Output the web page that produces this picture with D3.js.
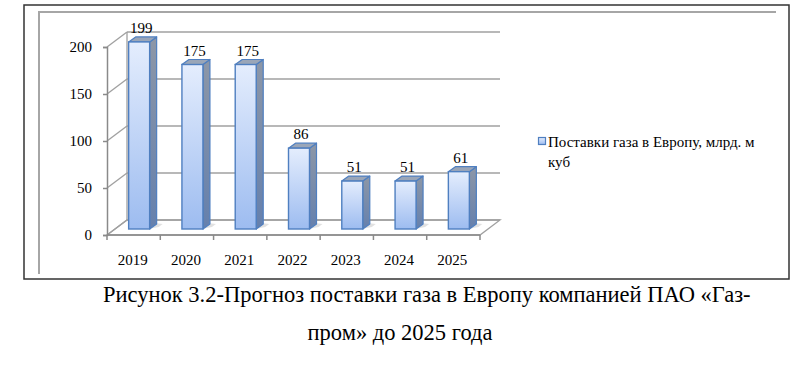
<!DOCTYPE html>
<html><head><meta charset="utf-8">
<script src="https://cdn.jsdelivr.net/npm/d3@7"></script>
<style>
body{margin:0;background:#fff;}
svg{display:block;}
</style></head>
<body>
<svg id="c" width="800" height="369" font-family="Liberation Serif"></svg>
<script>
const years = ["2019","2020","2021","2022","2023","2024","2025"];
const values = [199,175,175,86,51,51,61];
const yTicks = [0,50,100,150,200];
const seriesName = "Поставки газа в Европу, млрд. м";
const seriesName2 = "куб";
const caption1 = "Рисунок 3.2-Прогноз поставки газа в Европу компанией ПАО «Газ-";
const caption2 = "пром» до 2025 года";
const FONT = "Liberation Serif";

const svg = d3.select("#c");
const defs = svg.append("defs");
const gf = defs.append("linearGradient").attr("id","gFront").attr("x1",0).attr("y1",0).attr("x2",0).attr("y2",1);
gf.append("stop").attr("offset","0%").attr("stop-color","#e4edfd");
gf.append("stop").attr("offset","100%").attr("stop-color","#9dbcf0");
const gs = defs.append("linearGradient").attr("id","gSide").attr("x1",0).attr("y1",0).attr("x2",0).attr("y2",1);
gs.append("stop").attr("offset","0%").attr("stop-color","#8d97a7");
gs.append("stop").attr("offset","100%").attr("stop-color","#6580ad");

// frames
svg.append("rect").attr("x",24).attr("y",5).attr("width",765).attr("height",274)
  .attr("fill","none").attr("stroke","#333").attr("stroke-width",1.5);
svg.append("path").attr("d","M39,274 L39,12 L776,12").attr("fill","none").attr("stroke","#a6a6a6").attr("stroke-width",2);

const x0 = 107, x1 = 480, DX = 20, DY = -15;
const x = d3.scaleBand().domain(years).range([x0,x1]).padding(0);
const y = d3.scaleLinear().domain([0,200]).range([235,47]);
const grid = "#a0a0a0";

// floor
svg.append("path").attr("d",`M${x0},${y(0)} L${x1},${y(0)} L${x1+DX},${y(0)+DY} L${x0+DX},${y(0)+DY} Z`)
  .attr("fill","#fff").attr("stroke",grid).attr("stroke-width",1.3);
yTicks.forEach(t=>{
  svg.append("line").attr("x1",x0+DX).attr("x2",x1+DX).attr("y1",y(t)+DY).attr("y2",y(t)+DY)
    .attr("stroke",grid).attr("stroke-width",1.6);
  svg.append("line").attr("x1",x0).attr("x2",x0+DX).attr("y1",y(t)).attr("y2",y(t)+DY)
    .attr("stroke",grid).attr("stroke-width",1.3);
});
svg.append("line").attr("x1",x0+DX).attr("x2",x0+DX).attr("y1",y(0)+DY).attr("y2",y(200)+DY)
  .attr("stroke",grid).attr("stroke-width",1.3);

// y axis
const ya = svg.append("g").attr("transform",`translate(${x0},0)`)
  .call(d3.axisLeft(y).tickValues(yTicks).tickSize(4).tickPadding(11).tickFormat(d3.format("d")));
ya.attr("font-family",FONT).attr("font-size",15);
ya.select(".domain").attr("stroke","#8a8a8a").attr("stroke-width",1.5);
ya.selectAll(".tick line").attr("stroke","#8a8a8a").attr("stroke-width",1.5);
ya.selectAll(".tick text").attr("font-family",FONT).attr("font-size",15).attr("fill","#000");

// x axis
const xa = svg.append("g");
xa.append("line").attr("x1",x0).attr("x2",x1).attr("y1",y(0)).attr("y2",y(0)).attr("stroke","#8a8a8a").attr("stroke-width",1.5);
[...years.map(d=>x(d)), x1].forEach(px=>{
  xa.append("line").attr("x1",px).attr("x2",px).attr("y1",y(0)).attr("y2",y(0)+5).attr("stroke","#8a8a8a").attr("stroke-width",1.5);
});
xa.selectAll("text.cat").data(years).join("text").attr("class","cat")
  .attr("x",d=>x(d)+x.bandwidth()/2 - 1).attr("y",265).attr("text-anchor","middle")
  .attr("font-family",FONT).attr("font-size",15).attr("fill","#000").text(d=>d);

// bars
const bw = 21, bdx = 7, bdy = -5, offX = 5.5, offY = -6;
const bars = svg.append("g");
years.forEach((d,i)=>{
  const v = values[i];
  const xl = x(d) + (x.bandwidth()-bw)/2 + offX, xr = xl + bw;
  const yb = y(0) + offY, yt = y(v) + offY;
  const g = bars.append("g");
  g.append("path").attr("d",`M${xr-1},${yb} L${xr+9},${yb-2} L${xr+13},${yb-5} L${xr+5},${yb-6} Z`)
    .attr("fill","#bdbdbd").attr("opacity",0.45);
  g.append("path").attr("d",`M${xr},${yt} L${xr+bdx},${yt+bdy} L${xr+bdx},${yb+bdy} L${xr},${yb} Z`)
    .attr("fill","url(#gSide)").attr("stroke","#4f7fc0").attr("stroke-width",1.2).attr("stroke-linejoin","round");
  g.append("path").attr("d",`M${xl},${yt} L${xr},${yt} L${xr+bdx},${yt+bdy} L${xl+bdx},${yt+bdy} Z`)
    .attr("fill","#9aa6b8").attr("stroke","#4f7fc0").attr("stroke-width",1.2).attr("stroke-linejoin","round");
  g.append("rect").attr("x",xl).attr("y",yt).attr("width",bw).attr("height",yb-yt)
    .attr("fill","url(#gFront)").attr("stroke","#4f7fc0").attr("stroke-width",1.4);
  g.append("text").attr("x",xl+bw/2+2).attr("y",yt+bdy-4).attr("text-anchor","middle")
    .attr("font-family",FONT).attr("font-size",15).attr("fill","#000").text(v);
});

// legend
svg.append("rect").attr("x",538.5).attr("y",137.5).attr("width",7).attr("height",7)
  .attr("fill","url(#gFront)").attr("stroke","#4f7fc0").attr("stroke-width",1.2);
svg.append("text").attr("x",548).attr("y",147).attr("font-family",FONT).attr("font-size",15).attr("fill","#000").text(seriesName);
svg.append("text").attr("x",548).attr("y",167).attr("font-family",FONT).attr("font-size",15).attr("fill","#000").text(seriesName2);

// caption
svg.append("text").attr("x",103).attr("y",302).attr("font-family",FONT).attr("font-size",22.5).attr("fill","#000").text(caption1);
svg.append("text").attr("x",400).attr("y",340).attr("text-anchor","middle").attr("font-family",FONT).attr("font-size",22.5).attr("fill","#000").text(caption2);
</script>
</body></html>
